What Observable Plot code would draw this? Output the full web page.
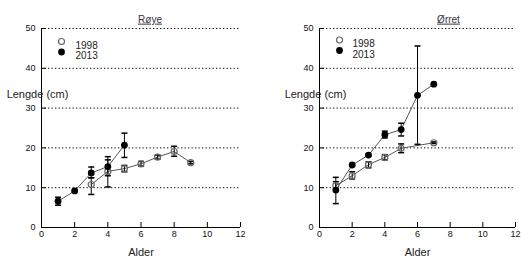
<!DOCTYPE html>
<html><head><meta charset="utf-8">
<script src="https://cdn.jsdelivr.net/npm/d3@7"></script>
<script src="https://cdn.jsdelivr.net/npm/@observablehq/plot@0.6"></script>
<style>
body{margin:0;background:#fff}
#c{position:relative;width:521px;height:264px;overflow:hidden}
#c svg{position:absolute;top:0}
</style>
</head><body><div id="c"></div>
<script>
// Tick labels
const xTicks = [0, 2, 4, 6, 8, 10, 12];
const yTicks = [0, 10, 20, 30, 40, 50];
const seriesNames = ["1998", "2013"];
const panelTitles = ["Røye", "Ørret"];

// Røye (arctic char)
const roye1998Age = [3, 4, 5, 6, 7, 8, 9];
const roye1998Len = [10.8, 14.1, 14.8, 16.0, 17.7, 19.1, 16.3];
const roye1998Lo  = [8.3, 10.2, 14.0, 15.4, 17.2, 17.9, 16.0];
const roye1998Hi  = [12.5, 17.0, 15.6, 16.6, 18.2, 20.4, 16.6];
const roye2013Age = [1, 2, 3, 4, 5];
const roye2013Len = [6.6, 9.2, 13.7, 15.3, 20.7];
const roye2013Lo  = [5.6, 9.0, 12.5, 13.0, 17.6];
const roye2013Hi  = [7.6, 9.4, 15.2, 17.8, 23.7];

// Ørret (trout)
const orret1998Age = [1, 2, 3, 4, 5, 7];
const orret1998Len = [10.5, 13.0, 15.8, 17.6, 19.9, 21.3];
const orret1998Lo  = [9.5, 12.2, 15.0, 17.0, 18.8, 21.1];
const orret1998Hi  = [11.5, 14.0, 16.5, 18.3, 21.0, 21.5];
const orret2013Age = [1, 2, 3, 4, 5, 6, 7];
const orret2013Len = [9.4, 15.7, 18.2, 23.3, 24.6, 33.2, 36.0];
const orret2013Lo  = [6.0, 15.5, 18.0, 22.5, 23.0, 20.9, 35.8];
const orret2013Hi  = [12.6, 15.9, 18.4, 24.2, 26.2, 45.6, 36.2];

function rows(age, len, lo, hi) {
  return age.map((a, i) => ({age: a, len: len[i], lo: lo[i], hi: hi[i]}));
}

const capSymbol = {draw(ctx) { ctx.moveTo(-3, 0); ctx.lineTo(3, 0); }};

function panel({title, d1998, d2013, width, marginLeft, marginRight, titleDx, legDx, legTextDx, legDy}) {
  const font = "Liberation Sans, Arial, Helvetica, sans-serif";
  const svg = Plot.plot({
    width, height: 264,
    marginLeft, marginRight, marginTop: 28, marginBottom: 37,
    style: {fontFamily: font, fontSize: "9px", color: "#111", background: "#fff", overflow: "visible"},
    x: {domain: [0, 12]},
    y: {domain: [0, 50]},
    marks: [
      Plot.ruleY(yTicks.filter(d => d > 0), {stroke: "#000", strokeDasharray: "1.3,2.2", strokeWidth: 1}),
      Plot.ruleX([0], {stroke: "#000"}),
      Plot.ruleY([0], {stroke: "#000"}),
      Plot.axisX({ticks: xTicks, tickSize: -5, tickPadding: 8, fontSize: 9, stroke: "#000", label: null}),
      Plot.axisY({ticks: yTicks, tickSize: -5, tickPadding: 11, fontSize: 9, label: null, stroke: "#000"}),
      Plot.line(d1998, {x: "age", y: "len", stroke: "#555", strokeWidth: 1}),
      Plot.line(d2013, {x: "age", y: "len", stroke: "#555", strokeWidth: 1}),
      Plot.ruleX(d1998, {x: "age", y1: "lo", y2: "hi", stroke: "#000", strokeWidth: 1}),
      Plot.ruleX(d2013, {x: "age", y1: "lo", y2: "hi", stroke: "#000", strokeWidth: 1}),
      Plot.dot(d1998, {x: "age", y: "lo", symbol: capSymbol, stroke: "#000"}),
      Plot.dot(d1998, {x: "age", y: "hi", symbol: capSymbol, stroke: "#000"}),
      Plot.dot(d2013, {x: "age", y: "lo", symbol: capSymbol, stroke: "#000"}),
      Plot.dot(d2013, {x: "age", y: "hi", symbol: capSymbol, stroke: "#000"}),
      Plot.dot(d1998, {x: "age", y: "len", r: 3, stroke: "#666", strokeWidth: 1.2, fill: "none"}),
      Plot.dot(d2013, {x: "age", y: "len", r: 3.4, fill: "#000", stroke: "none"}),
      // legend
      Plot.dot([seriesNames[0]], {frameAnchor: "top-left", dx: legDx, dy: legDy, r: 3, stroke: "#666", strokeWidth: 1.2}),
      Plot.dot([seriesNames[1]], {frameAnchor: "top-left", dx: legDx, dy: legDy + 10.5, r: 3.4, fill: "#000"}),
      Plot.text([seriesNames[0]], {frameAnchor: "top-left", dx: legTextDx, dy: legDy, text: d => d, textAnchor: "start", fontSize: 10, fill: "#222"}),
      Plot.text([seriesNames[1]], {frameAnchor: "top-left", dx: legTextDx, dy: legDy + 10.5, text: d => d, textAnchor: "start", fontSize: 10, fill: "#222"}),
      // title and axis labels
      Plot.text([title], {frameAnchor: "top", dx: titleDx, dy: -13, text: d => d, fontSize: 10, fill: "#334"}),
      Plot.text(["Alder"], {frameAnchor: "bottom", dy: 28, text: d => d, fontSize: 11, fill: "#222"}),
      Plot.text(["Lengde (cm)"], {frameAnchor: "top-left", dx: -4, dy: 62, text: d => d, textAnchor: "middle", fontSize: 11, fill: "#222"})
    ]
  });
  svg.querySelectorAll("text").forEach(t => {
    if (t.textContent === title) t.setAttribute("text-decoration", "underline");
  });
  return svg;
}

const c = document.getElementById("c");
const left = panel({
  title: panelTitles[0],
  d1998: rows(roye1998Age, roye1998Len, roye1998Lo, roye1998Hi),
  d2013: rows(roye2013Age, roye2013Len, roye2013Lo, roye2013Hi),
  width: 260, marginLeft: 41, marginRight: 20, titleDx: 9,
  legDx: 20, legTextDx: 34, legDy: 13
});
left.style.left = "0px";
const right = panel({
  title: panelTitles[1],
  d1998: rows(orret1998Age, orret1998Len, orret1998Lo, orret1998Hi),
  d2013: rows(orret2013Age, orret2013Len, orret2013Lo, orret2013Hi),
  width: 261, marginLeft: 59, marginRight: 6, titleDx: 31,
  legDx: 20, legTextDx: 33, legDy: 11.5
});
right.style.left = "260px";
c.append(left, right);
</script>
</body></html>
